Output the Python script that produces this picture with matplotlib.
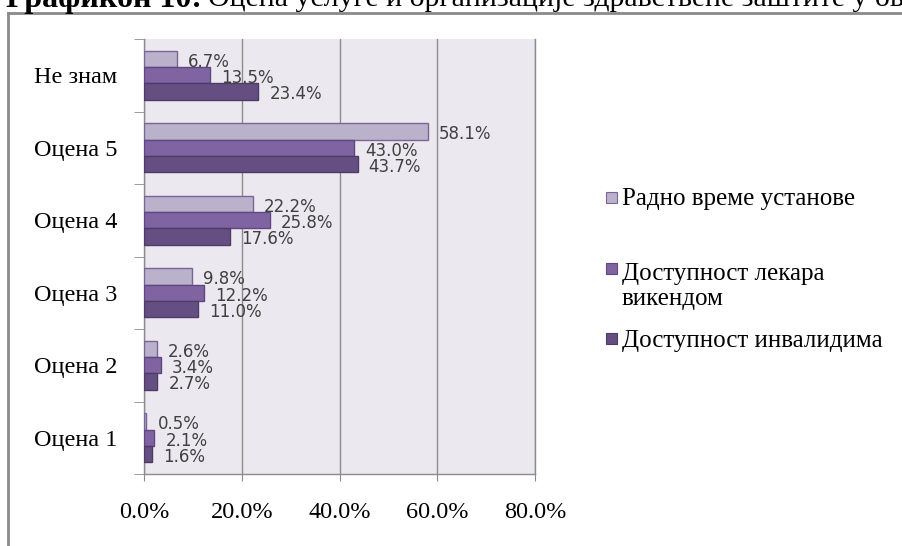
#!/usr/bin/env python3
"""
Horizontal grouped bar chart: ratings of health care service organisation.
"""

import numpy as np
import matplotlib

matplotlib.use("Agg")
import matplotlib.pyplot as plt
from matplotlib.patches import Rectangle
from matplotlib.lines import Line2D

# Data (top to bottom as shown)
categories = ["Не знам", "Оцена 5", "Оцена 4", "Оцена 3", "Оцена 2", "Оцена 1"]
series_names = [
    "Радно време установе",
    "Доступност лекара\nвикендом",
    "Доступност инвалидима",
]
radno_vreme = [6.7, 58.1, 22.2, 9.8, 2.6, 0.5]
lekar_vikendom = [13.5, 43.0, 25.8, 12.2, 3.4, 2.1]
invalidi = [23.4, 43.7, 17.6, 11.0, 2.7, 1.6]
x_ticks = [0, 20, 40, 60, 80]
x_tick_labels = ["0.0%", "20.0%", "40.0%", "60.0%", "80.0%"]

title_bold = "Графикон 10:"
title_rest = "Оцена услуге и организације здравствене заштите у ов"

fills = ["#bab1ca", "#8064a2", "#654f82"]
edges = ["#7a6597", "#5e4880", "#4d3b66"]
SERIF = ["Liberation Serif", "DejaVu Serif"]
W, H = 902, 546


def fx(px):
    return px / W


def fy(py):
    return 1 - py / H


fig = plt.figure(figsize=(W / 100, H / 100), dpi=100)
fig.patch.set_facecolor("white")

ax = fig.add_axes([fx(144), fy(474), fx(535) - fx(144), fy(39) - fy(474)])
ax.set_facecolor("#ebe9ef")

n = len(categories)
ypos = np.arange(n)[::-1]
bar_h = 0.225
all_series = [radno_vreme, lekar_vikendom, invalidi]
offsets = [bar_h, 0, -bar_h]

for vals, off, fc, ec in zip(all_series, offsets, fills, edges):
    ax.barh(ypos + off, vals, height=bar_h, color=fc, edgecolor=ec,
            linewidth=1.0, zorder=3)
    for y, v in zip(ypos + off, vals):
        ax.annotate(f"{v:.1f}%", xy=(v, y), xytext=(8, -2),
                    textcoords="offset points", ha="left", va="center",
                    fontsize=12, color="#404040", family="DejaVu Sans",
                    zorder=4)

ax.set_xlim(0, 80)
ax.set_ylim(-0.5, n - 0.5)
ax.set_xticks(x_ticks)
ax.set_xticklabels(x_tick_labels, family=SERIF, fontsize=17.5)
ax.set_yticks(ypos)
ax.set_yticklabels(categories, family=SERIF, fontsize=17.5)
ax.set_yticks(np.arange(-0.5, n, 1.0), minor=True)
ax.tick_params(axis="y", which="major", length=0, pad=19)
ax.tick_params(axis="y", which="minor", length=7, color="#8c8c8c")
ax.tick_params(axis="x", length=5, color="#8c8c8c", pad=15)

ax.grid(axis="x", color="#8c8c8c", linewidth=1.0, zorder=1)
ax.set_axisbelow(True)
ax.spines["top"].set_visible(False)
for side in ["left", "bottom", "right"]:
    ax.spines[side].set_color("#8c8c8c")
    ax.spines[side].set_linewidth(1.0)

# Legend drawn by hand (Excel spaces entries unevenly)
square_top = [192, 263, 333]
text_base = [205, 305, 347]  # baseline of the last line of each entry
for name, fc, ec, sq, tb in zip(series_names, fills, edges, square_top, text_base):
    fig.patches.append(Rectangle((fx(606), fy(sq + 11)), fx(11), 11 / H,
                                 facecolor=fc, edgecolor=ec, linewidth=0.8,
                                 transform=fig.transFigure))
    fig.text(fx(622), fy(tb), name, family=SERIF, fontsize=18,
             ha="left", va="baseline", color="black", linespacing=1.15)

# Chart frame (only left and top edges visible in the crop)
fig.add_artist(Line2D([fx(8), fx(8)], [0, fy(13)], color="#8a8a8a",
                      linewidth=2.0, transform=fig.transFigure))
fig.add_artist(Line2D([fx(8), 1], [fy(13), fy(13)], color="#8a8a8a",
                      linewidth=2.0, transform=fig.transFigure))

# Caption above the chart, cut off by the top edge
fig.text(fx(202), fy(6.5), title_bold, family=SERIF, fontsize=23,
         fontweight="bold", ha="right", va="baseline")
fig.text(fx(208), fy(6.5), title_rest, family=SERIF, fontsize=21.5,
         ha="left", va="baseline")

fig.savefig("out.png", dpi=100)
